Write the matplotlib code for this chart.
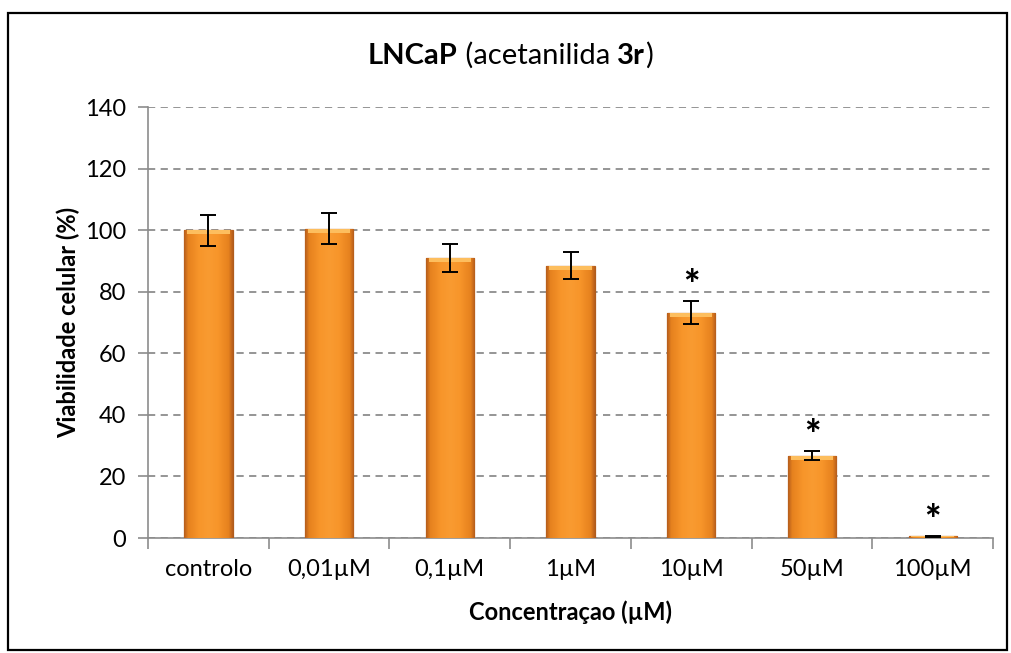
import numpy as np
import matplotlib
matplotlib.use("Agg")
import matplotlib.pyplot as plt
from matplotlib.patches import Rectangle
from matplotlib.colors import LinearSegmentedColormap
from matplotlib.offsetbox import TextArea, HPacker, AnchoredOffsetbox

categories = ["controlo", "0,01µM", "0,1µM", "1µM", "10µM", "50µM", "100µM"]
viability = [100.0, 100.5, 91.0, 88.5, 73.2, 26.8, 0.5]
errors = [5.0, 5.0, 4.5, 4.5, 3.7, 1.5, 0.2]
significant = [False, False, False, False, True, True, True]
yticks = [0, 20, 40, 60, 80, 100, 120, 140]

plt.rcParams["font.family"] = ["Lato", "DejaVu Sans"]

fig = plt.figure(figsize=(10.11, 6.53), dpi=100)
ax = fig.add_axes([0.1464, 0.1761, 0.8358, 0.66])

x = np.arange(len(categories))
bars = ax.bar(x, viability, width=0.4, color="#F7941E", edgecolor="#B05C1C",
              linewidth=0.9, zorder=3)

# horizontal shading inside each bar
cmap = LinearSegmentedColormap.from_list(
    "bar", [(0, "#B85F1C"), (0.08, "#E6811E"), (0.3, "#F7952A"),
            (0.5, "#F99B31"), (0.7, "#F7952A"), (0.92, "#E6811E"),
            (1, "#B85F1C")])
grad = np.linspace(0, 1, 64).reshape(1, -1)
for b in bars:
    x0, w, h = b.get_x(), b.get_width(), b.get_height()
    if h <= 0:
        continue
    im = ax.imshow(grad, extent=[x0, x0 + w, 0, h], cmap=cmap, aspect="auto",
                   zorder=3.5)
    im.set_clip_path(b)
    # light bevel on the top edge
    bev = min(1.3, h * 0.3)
    ax.add_patch(Rectangle((x0 + w * 0.06, h - bev), w * 0.88, bev,
                           color="#FDBE5E", lw=0, zorder=3.6))

ax.errorbar(x, viability, yerr=errors, fmt="none", ecolor="black",
            elinewidth=1.4, capsize=6, capthick=1.4, zorder=4)

for xi, v, e, s in zip(x, viability, errors, significant):
    if s:
        ax.text(xi, v + e - 1.6, "*", ha="center", va="bottom",
                fontsize=28, fontweight="black", zorder=5)

ax.set_xlim(-0.5, len(categories) - 0.5)
ax.set_ylim(0, 140)
ax.set_yticks(yticks)
ax.set_yticklabels([str(t) for t in yticks], fontsize=17)
ax.yaxis.grid(True, linestyle=(0, (4, 3)), color="#8C8C8C", linewidth=1.3,
              zorder=0)
ax.set_axisbelow(True)

ax.set_xticks(x)
ax.set_xticklabels(categories, fontsize=17)
ax.tick_params(axis="x", which="major", length=0, pad=15)
ax.set_xticks(np.arange(-0.5, len(categories)), minor=True)
ax.tick_params(axis="x", which="minor", length=8, color="#8C8C8C", width=1.2)
ax.tick_params(axis="y", length=7, color="#8C8C8C", width=1.2, pad=9)

for side in ["top", "right"]:
    ax.spines[side].set_visible(False)
for side in ["left", "bottom"]:
    ax.spines[side].set_color("#8C8C8C")
    ax.spines[side].set_linewidth(1.2)

ax.set_xlabel("Concentraçao (µM)", fontsize=17, fontweight="bold", labelpad=15)
ax.set_ylabel("Viabilidade celular (%)", fontsize=17, fontweight="bold",
              labelpad=3)

# title with mixed weights
parts = [("LNCaP", "bold"), (" (acetanilida ", "normal"), ("3r", "bold"), (")", "normal")]
boxes = [TextArea(s, textprops=dict(fontsize=21, fontweight=w)) for s, w in parts]
pack = HPacker(children=boxes, align="baseline", pad=0, sep=0)
ab = AnchoredOffsetbox(loc="center", child=pack, frameon=False,
                       bbox_to_anchor=(0.505, 0.915), bbox_transform=fig.transFigure,
                       borderpad=0, pad=0)
fig.add_artist(ab)

fig.add_artist(Rectangle((8 / 1011, 3 / 653), 999 / 1011, 637 / 653,
                         transform=fig.transFigure, fill=False,
                         edgecolor="black", linewidth=1.6))

fig.savefig("out.png", dpi=100)
